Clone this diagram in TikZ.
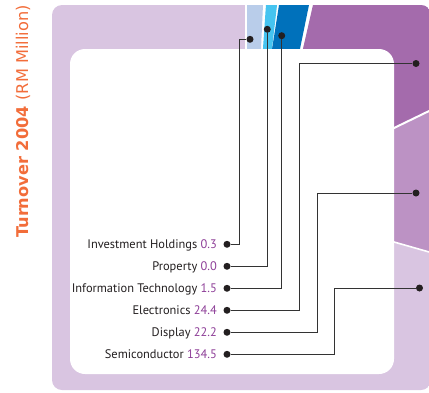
\documentclass[tikz,border=0pt]{standalone}
\usepackage{fontspec}
\setmainfont{PT Sans}
\newfontfamily\titlefont{DejaVu Sans}
\definecolor{lpur}{HTML}{D9C5E1}
\definecolor{mpur}{HTML}{BC92C4}
\definecolor{dpur}{HTML}{A46BAC}
\definecolor{dblue}{HTML}{0071BB}
\definecolor{cyanc}{HTML}{45C4F0}
\definecolor{lblue}{HTML}{B9CDEA}
\definecolor{orangec}{HTML}{F26D3A}
\definecolor{txt}{HTML}{231F20}
\definecolor{numc}{HTML}{8E3F98}
\definecolor{linec}{HTML}{333333}
\tikzset{
  lab/.style={anchor=base east, text=txt, font=\fontsize{12.4}{14}\selectfont, inner sep=0pt},
  dot/.style={circle, fill=txt, inner sep=0pt, minimum size=7pt},
  conn/.style={draw=linec, line width=0.9pt}
}
\begin{document}
\begin{tikzpicture}[x=1pt,y=-1pt]
\useasboundingbox (0,0) rectangle (429,392);
\begin{scope}
\clip[rounded corners=10pt] (52,5) rectangle (431,390);
\fill[lpur] (40,0) rectangle (440,400);
\fill[white] (245,0) -- (315,0) -- (300,60) -- (245,60) -- cycle;
\fill[lblue] (247,0) -- (263.2,0) -- (260.5,60) -- (247,60) -- cycle;
\fill[cyanc] (266.3,0) -- (277.6,0) -- (270.7,60) -- (262.2,60) -- cycle;
\fill[dblue] (279.8,0) -- (310,0) -- (297.7,60) -- (270.3,60) -- cycle;
\fill[dpur] (314.1,0) -- (440,0) -- (440,105.7) -- (380,134.8) -- (380,60) -- (300.5,60) -- cycle;
\fill[mpur] (380,134.8) -- (440,105.7) -- (440,255.1) -- (380,238) -- cycle;
\draw[white, line width=2pt] (380,134.8) -- (440,105.7);
\draw[white, line width=1.6pt] (380,238) -- (440,255.1);
\end{scope}
\fill[white, rounded corners=15pt] (70,49) rectangle (394,374);

\node[rotate=90, anchor=base west, text=orangec, inner sep=0pt,
  font=\titlefont\fontsize{16.2}{18}\selectfont] (title) at (28,238)
  {\bfseries Turnover 2004 \mdseries(RM Million)};

\node[lab] (lA) at (217,248.3) {Investment Holdings \textcolor{numc}{0.3}};
\node[lab] (lP) at (217,270.3) {Property \textcolor{numc}{0.0}};
\node[lab] (lI) at (217,292.3) {Information Technology \textcolor{numc}{1.5}};
\node[lab] (lE) at (217,314.3) {Electronics \textcolor{numc}{24.4}};
\node[lab] (lD) at (217,336.3) {Display \textcolor{numc}{22.2}};
\node[lab] (lS) at (217,358.3) {Semiconductor \textcolor{numc}{134.5}};

\node[dot] (dA) at (227,244.3) {};
\node[dot] (dP) at (227,266.3) {};
\node[dot] (dI) at (227,288.3) {};
\node[dot] (dE) at (227,310.3) {};
\node[dot] (dD) at (227,332.3) {};
\node[dot] (dS) at (227,354.3) {};

\node[dot] (tA) at (250,39.3) {};
\node[dot] (tP) at (267.3,29.3) {};
\node[dot] (tI) at (281.7,35.7) {};
\node[dot] (tE) at (416,63.5) {};
\node[dot] (tD) at (416,193) {};
\node[dot] (tS) at (419.5,288) {};

\draw[conn] (dA) -- ++(12,0) |- (tA);
\draw[conn] (dP) -| (tP);
\draw[conn] (dI) -| (tI);
\draw[conn] (dE) -- ++(72,0) |- (tE);
\draw[conn] (dD) -- ++(90,0) |- (tD);
\draw[conn] (dS) -- ++(107,0) |- (tS);
\end{tikzpicture}
\end{document}
